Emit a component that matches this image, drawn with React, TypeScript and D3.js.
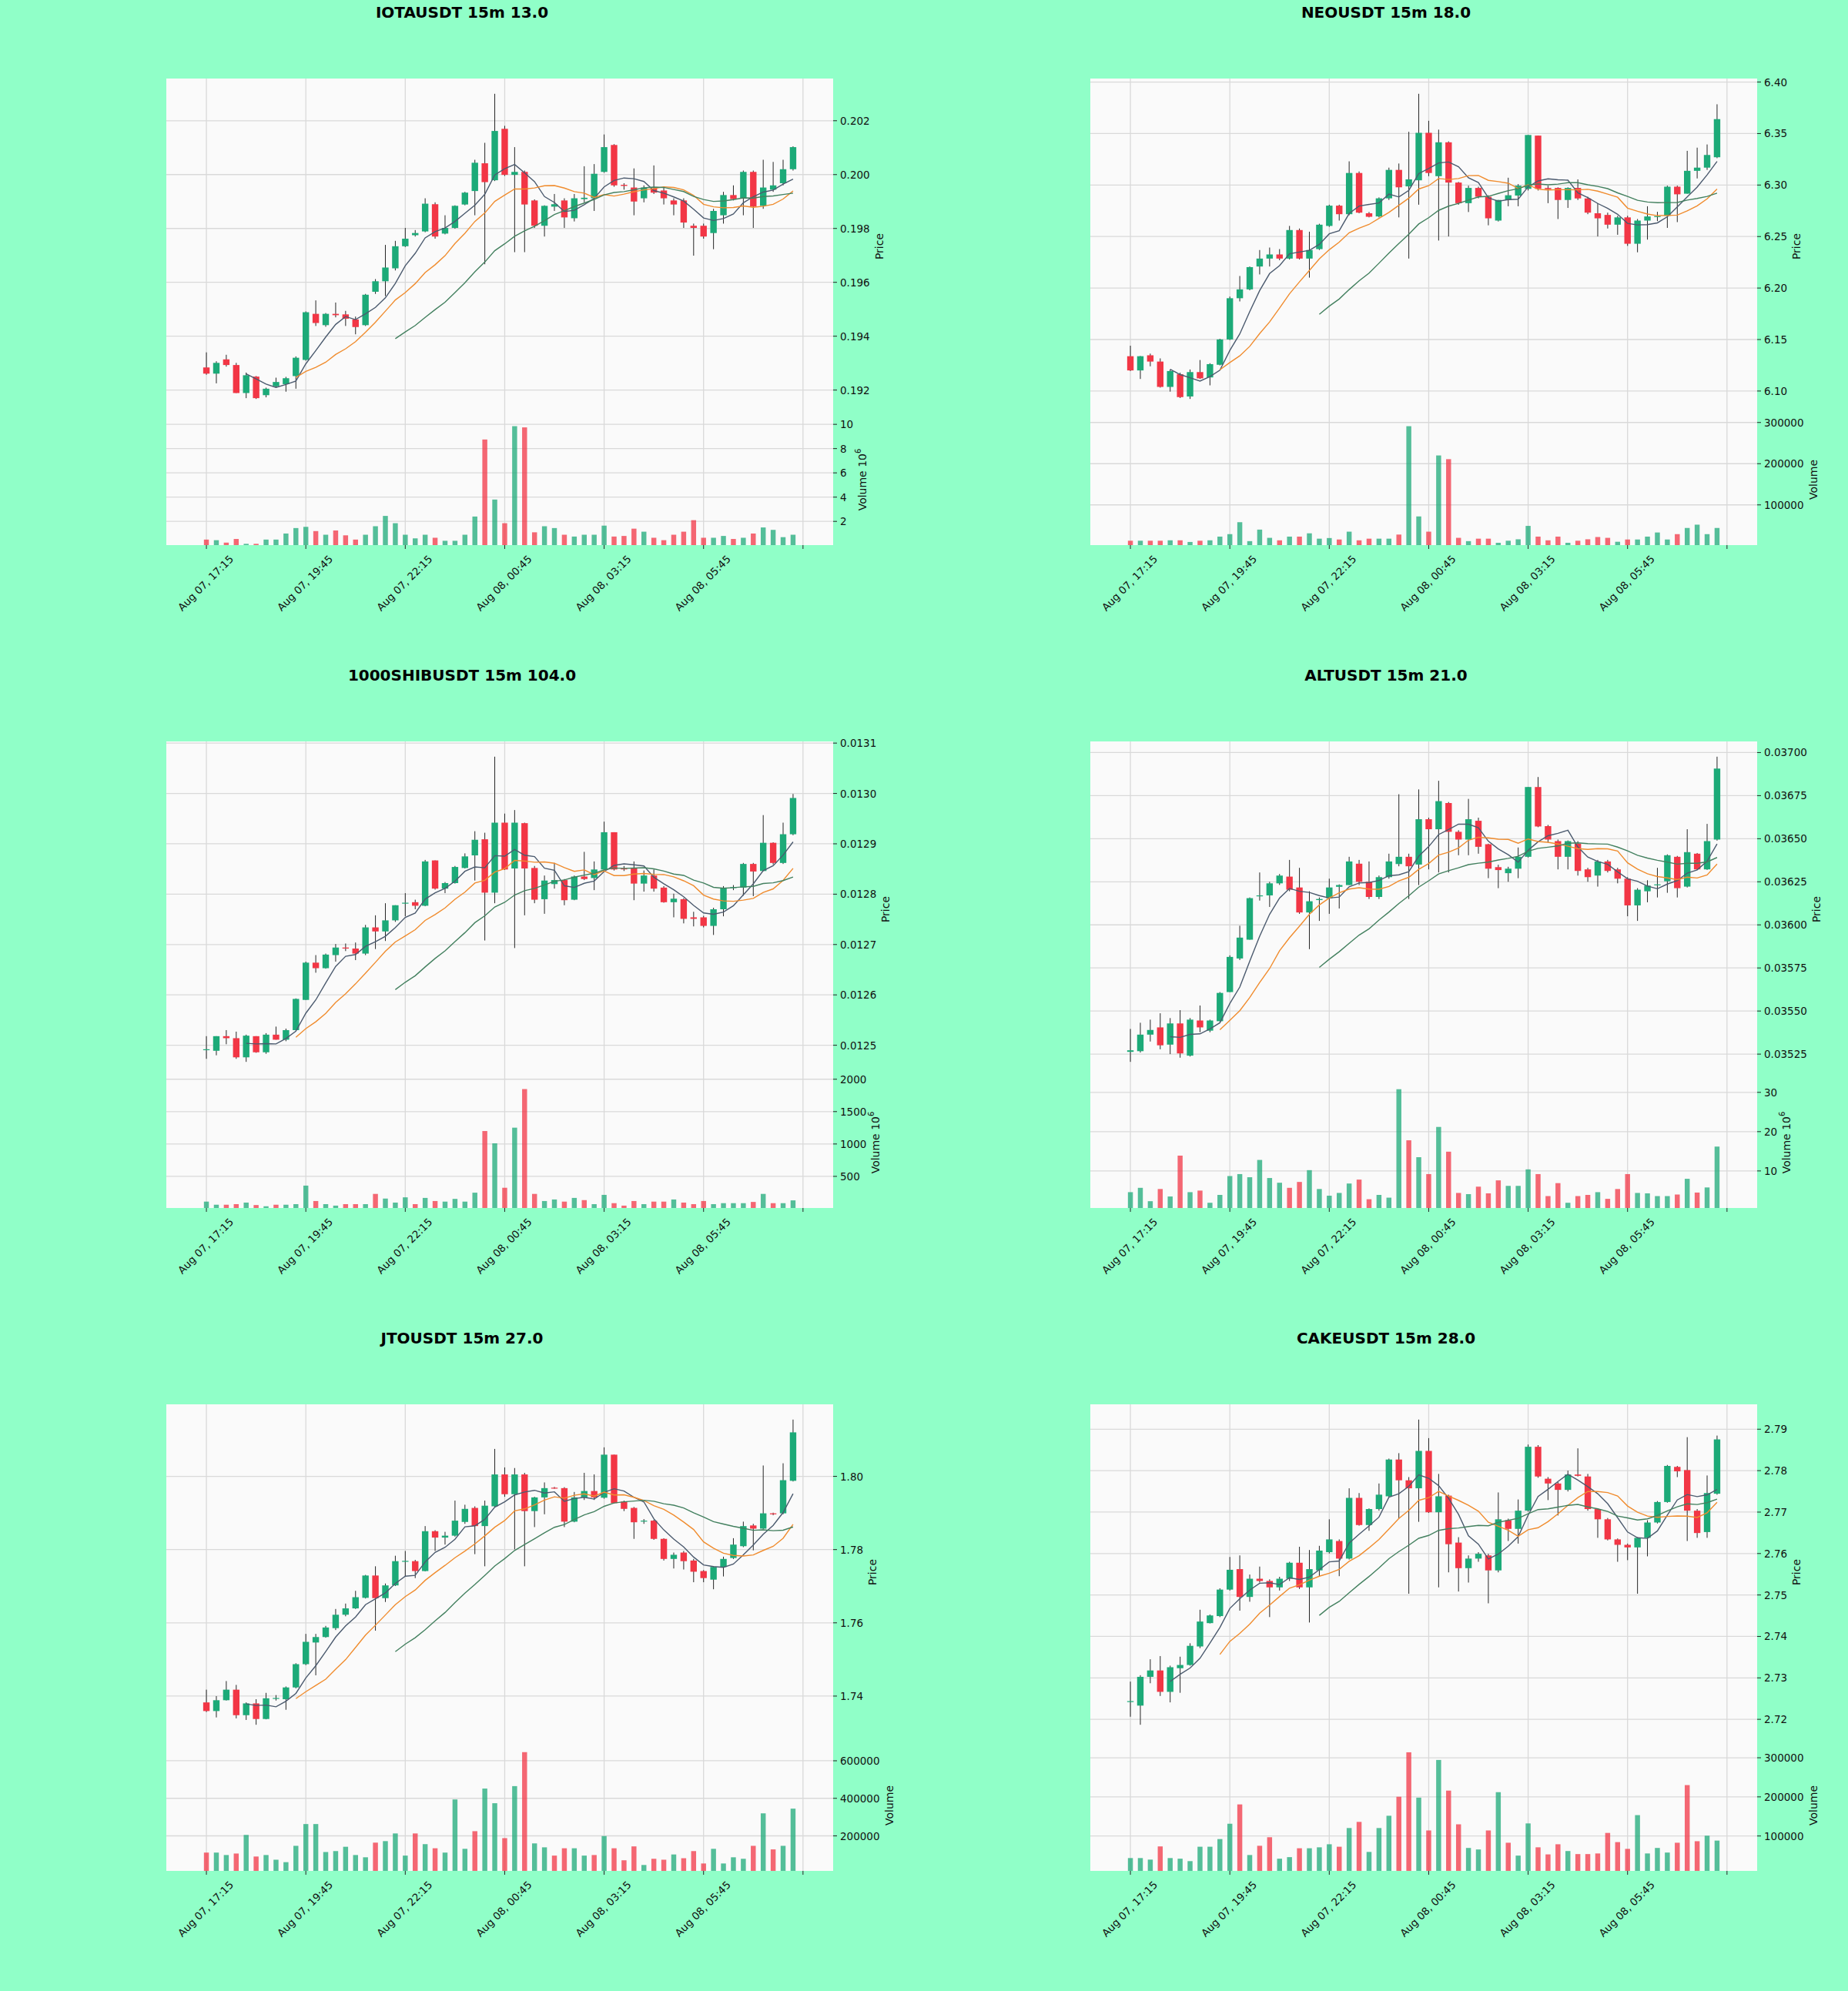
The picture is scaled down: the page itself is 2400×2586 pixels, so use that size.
import React from "react";
import * as d3 from "d3";

// open, high, low, close
type Candle = [number, number, number, number];

const FIG_W = 2400;
const FIG_H = 2586;
const FIG_BG = "#90ffc8";
const AX_BG = "#fafafa";
const GRID = "#d9d9d9";
const UP = "#1caa78";
const DOWN = "#f23645";
const WICK = "#262626";
const FONT = "DejaVu Sans, Verdana, sans-serif";

const MA_WINDOWS = [5, 10, 20];
const MA_COLORS = ["#4b5a6e", "#f08c2e", "#43805f"];

// layout of the 2 x 3 grid (pixels)
const COL_LEFT = [216, 1416];
const PLOT_W = 866;
const ROW_TOP = [102, 963, 1824];
const PRICE_H = 436;
const VOL_H = 170;

const TIME_TICKS = [0, 10, 20, 30, 40, 50, 60];
const TIME_LABELS = [
  "Aug 07, 17:15",
  "Aug 07, 19:45",
  "Aug 07, 22:15",
  "Aug 08, 00:45",
  "Aug 08, 03:15",
  "Aug 08, 05:45",
  "",
];

//___________ IOTAUSDT ____________
const iotaCandles: Candle[] = [
  [0.19284, 0.1934, 0.19257, 0.19261], [0.19261, 0.19307, 0.19225, 0.19301], [0.19314, 0.19331, 0.19287, 0.19293],
  [0.19293, 0.19301, 0.19189, 0.19189], [0.19189, 0.19265, 0.1917, 0.19255], [0.1925, 0.19252, 0.19167, 0.1917],
  [0.19181, 0.19209, 0.19173, 0.19205], [0.19214, 0.19246, 0.19209, 0.1923], [0.19222, 0.19249, 0.19194, 0.19244],
  [0.19252, 0.19325, 0.19205, 0.1932], [0.19312, 0.19492, 0.19309, 0.19489], [0.19483, 0.19533, 0.19438, 0.19449],
  [0.19441, 0.19486, 0.19435, 0.19483], [0.19483, 0.19525, 0.1947, 0.19478], [0.19481, 0.19494, 0.19438, 0.19465],
  [0.19462, 0.19473, 0.19407, 0.19434], [0.19441, 0.19557, 0.19438, 0.19554], [0.19565, 0.19612, 0.19557, 0.19604],
  [0.19604, 0.19739, 0.19549, 0.19655], [0.19652, 0.19754, 0.19644, 0.19734], [0.19734, 0.19802, 0.19731, 0.19762],
  [0.19775, 0.19794, 0.1977, 0.19783], [0.19789, 0.19912, 0.19786, 0.19892], [0.1989, 0.19897, 0.19762, 0.1977],
  [0.19781, 0.19849, 0.19778, 0.19802], [0.19802, 0.19886, 0.19799, 0.19884], [0.19889, 0.19936, 0.19886, 0.19933],
  [0.19939, 0.20055, 0.19849, 0.20044], [0.20042, 0.20118, 0.19667, 0.19972], [0.19979, 0.203, 0.19976, 0.20162],
  [0.2017, 0.20181, 0.19995, 0.19999], [0.19999, 0.20102, 0.19712, 0.2001], [0.2001, 0.20015, 0.19712, 0.19889],
  [0.19904, 0.19908, 0.19802, 0.1981], [0.1981, 0.19886, 0.1977, 0.19884], [0.19881, 0.19928, 0.19865, 0.1989],
  [0.19904, 0.19912, 0.19802, 0.19841], [0.19838, 0.19928, 0.19826, 0.19912], [0.19909, 0.20031, 0.19897, 0.19914],
  [0.19912, 0.20039, 0.19865, 0.20003], [0.2001, 0.20149, 0.20007, 0.20102], [0.2011, 0.20113, 0.19955, 0.1996],
  [0.19962, 0.19968, 0.19944, 0.19958], [0.19952, 0.20023, 0.19849, 0.199], [0.19912, 0.1996, 0.19897, 0.19952],
  [0.19949, 0.20034, 0.19928, 0.19933], [0.19941, 0.19952, 0.19889, 0.19912], [0.19904, 0.19912, 0.19849, 0.19889],
  [0.19904, 0.19912, 0.19802, 0.19822], [0.1981, 0.19818, 0.19699, 0.19802], [0.1981, 0.19818, 0.19762, 0.1977],
  [0.19783, 0.19873, 0.19723, 0.19865], [0.19849, 0.19936, 0.19818, 0.19924], [0.19924, 0.1996, 0.19904, 0.19909],
  [0.19912, 0.20015, 0.19849, 0.2001], [0.2001, 0.20015, 0.19802, 0.19881], [0.19884, 0.20055, 0.19873, 0.19952],
  [0.19944, 0.20047, 0.19936, 0.1996], [0.19968, 0.20055, 0.1996, 0.2002], [0.2002, 0.20105, 0.20015, 0.20102],
];
// in units of 10^6
const iotaVolume = [
  0.5, 0.45, 0.25, 0.55, 0.15, 0.15, 0.5, 0.5, 1.0, 1.45, 1.55, 1.2, 0.9, 1.25, 0.85, 0.5, 0.9, 1.6, 2.45, 1.85,
  0.9, 0.6, 0.9, 0.65, 0.4, 0.4, 0.9, 2.4, 8.75, 3.8, 1.85, 9.85, 9.75, 1.1, 1.6, 1.45, 0.9, 0.75, 0.9, 0.9,
  1.65, 0.75, 0.8, 1.4, 1.15, 0.65, 0.45, 0.9, 1.15, 2.1, 0.65, 0.65, 0.8, 0.55, 0.65, 1.0, 1.5, 1.3, 0.7, 0.9,
];
const iotaPriceTicks = [0.192, 0.194, 0.196, 0.198, 0.2, 0.202];
const iotaVolumeTicks = [2, 4, 6, 8, 10];

//___________ NEOUSDT ____________
const neoCandles: Candle[] = [
  [6.1338, 6.144, 6.1194, 6.12], [6.12, 6.134, 6.1117, 6.1338], [6.1347, 6.1363, 6.124, 6.1286],
  [6.1286, 6.1317, 6.1033, 6.104], [6.104, 6.1209, 6.0994, 6.1194], [6.1163, 6.1178, 6.0932, 6.0941],
  [6.0947, 6.1209, 6.0923, 6.1184], [6.1184, 6.1301, 6.1117, 6.1123], [6.1132, 6.127, 6.1055, 6.1261],
  [6.1255, 6.1507, 6.1249, 6.1501], [6.1501, 6.1917, 6.1495, 6.1901], [6.1901, 6.2117, 6.187, 6.1987],
  [6.1987, 6.2209, 6.1978, 6.2203], [6.2209, 6.2369, 6.2132, 6.2286], [6.2286, 6.2393, 6.2209, 6.2326],
  [6.2326, 6.2378, 6.227, 6.2286], [6.2286, 6.2603, 6.2277, 6.2563], [6.2563, 6.2578, 6.2277, 6.2286],
  [6.2286, 6.2547, 6.2101, 6.2369], [6.2378, 6.2624, 6.2369, 6.2615], [6.2603, 6.2809, 6.2594, 6.28],
  [6.28, 6.2809, 6.2655, 6.2717], [6.2717, 6.323, 6.2707, 6.3117], [6.3117, 6.3132, 6.2726, 6.2732],
  [6.2726, 6.2738, 6.2686, 6.2692], [6.2695, 6.288, 6.2686, 6.2871], [6.2871, 6.3169, 6.2855, 6.3147],
  [6.3147, 6.3209, 6.2686, 6.2978], [6.2987, 6.3517, 6.2286, 6.3055], [6.3046, 6.3886, 6.2809, 6.3507],
  [6.3507, 6.3624, 6.3086, 6.3117], [6.3086, 6.3538, 6.2461, 6.3415], [6.3415, 6.3424, 6.2501, 6.3024],
  [6.3024, 6.303, 6.2809, 6.2824], [6.2824, 6.2994, 6.2738, 6.2972], [6.2972, 6.2984, 6.2871, 6.2886],
  [6.2886, 6.2901, 6.2609, 6.2677], [6.2655, 6.2855, 6.2646, 6.2855], [6.2855, 6.3071, 6.2794, 6.2901],
  [6.2898, 6.3009, 6.2794, 6.2994], [6.2963, 6.3486, 6.2947, 6.3486], [6.348, 6.348, 6.2947, 6.2963],
  [6.2972, 6.2994, 6.2824, 6.296], [6.2972, 6.2978, 6.267, 6.2855], [6.2855, 6.2978, 6.2778, 6.2972],
  [6.2972, 6.3055, 6.2855, 6.287], [6.287, 6.2886, 6.2717, 6.2732], [6.2726, 6.2824, 6.2501, 6.2677],
  [6.271, 6.2732, 6.2578, 6.2615], [6.2615, 6.2701, 6.2517, 6.2686], [6.2686, 6.2701, 6.2409, 6.243],
  [6.243, 6.267, 6.2347, 6.2655], [6.2655, 6.2794, 6.247, 6.2695], [6.2692, 6.274, 6.265, 6.2698],
  [6.2701, 6.2994, 6.2584, 6.2984], [6.2984, 6.2994, 6.264, 6.291], [6.2916, 6.3332, 6.2916, 6.3138],
  [6.3138, 6.3363, 6.3064, 6.3169], [6.3169, 6.3394, 6.3147, 6.3292], [6.327, 6.3784, 6.3261, 6.364],
];
const neoVolume = [
  13000, 13000, 13000, 13000, 14000, 14000, 10000, 13000, 14000, 23000, 29000, 58000, 12000, 40000, 20000,
  14000, 23000, 23000, 31000, 18000, 19500, 16000, 35000, 14000, 18000, 18000, 18000, 28000, 291000, 72000,
  35000, 220000, 211000, 20000, 12000, 18000, 18000, 8000, 13000, 16500, 49000, 23000, 14000, 23000, 8000,
  13000, 16500, 22000, 20000, 10500, 16000, 16000, 23000, 33000, 16000, 29000, 44000, 52000, 29000, 44000,
];
const neoPriceTicks = [6.1, 6.15, 6.2, 6.25, 6.3, 6.35, 6.4];
const neoVolumeTicks = [100000, 200000, 300000];

//___________ 1000SHIBUSDT ____________
const shibCandles: Candle[] = [
  [0.012491, 0.012518, 0.012473, 0.012492], [0.012489, 0.012518, 0.01248, 0.012518], [0.012518, 0.01253, 0.012502, 0.012514],
  [0.012514, 0.012527, 0.012473, 0.012476], [0.012476, 0.012521, 0.012467, 0.012519], [0.012518, 0.012518, 0.012485, 0.012486],
  [0.012486, 0.012524, 0.012483, 0.012521], [0.012521, 0.012537, 0.012511, 0.012511], [0.012511, 0.012533, 0.012508, 0.01253],
  [0.01253, 0.012593, 0.012529, 0.012592], [0.01259, 0.012666, 0.01259, 0.012664], [0.012664, 0.012679, 0.012644, 0.012653],
  [0.012653, 0.012682, 0.012652, 0.01268], [0.012679, 0.012701, 0.012666, 0.012694], [0.012694, 0.012702, 0.012687, 0.012692],
  [0.012692, 0.012704, 0.012669, 0.012682], [0.012682, 0.012739, 0.012679, 0.012734], [0.012734, 0.012758, 0.012691, 0.012726],
  [0.012726, 0.012782, 0.012707, 0.012748], [0.012748, 0.012778, 0.012745, 0.012778], [0.012782, 0.012802, 0.012756, 0.012783],
  [0.012784, 0.012789, 0.01277, 0.012777], [0.012777, 0.012868, 0.012776, 0.012865], [0.012867, 0.012867, 0.012809, 0.012811],
  [0.012811, 0.012824, 0.012802, 0.012822], [0.012822, 0.012856, 0.012821, 0.012854], [0.012852, 0.012881, 0.012851, 0.012875],
  [0.012877, 0.012925, 0.012827, 0.012908], [0.012909, 0.012922, 0.012708, 0.012803], [0.012803, 0.013073, 0.012782, 0.012942],
  [0.012942, 0.01296, 0.012848, 0.012849], [0.012851, 0.012967, 0.012693, 0.012942], [0.012941, 0.012942, 0.012758, 0.012851],
  [0.012852, 0.012856, 0.012782, 0.012789], [0.01279, 0.012837, 0.012761, 0.012827], [0.01282, 0.012862, 0.012811, 0.012828],
  [0.012828, 0.01283, 0.012778, 0.012788], [0.012789, 0.012837, 0.012788, 0.012835], [0.012835, 0.012884, 0.012828, 0.01283],
  [0.012832, 0.012865, 0.012808, 0.012849], [0.012849, 0.012944, 0.012846, 0.012923], [0.012923, 0.012923, 0.012847, 0.012849],
  [0.012851, 0.012856, 0.012846, 0.01285], [0.012851, 0.012865, 0.012788, 0.012821], [0.012821, 0.012847, 0.012805, 0.012837],
  [0.012837, 0.012849, 0.012805, 0.012811], [0.012813, 0.012816, 0.012783, 0.012784], [0.012784, 0.012801, 0.012754, 0.012791],
  [0.01279, 0.012792, 0.012742, 0.012751], [0.012754, 0.012765, 0.012736, 0.012751], [0.012754, 0.012757, 0.012734, 0.012737],
  [0.012737, 0.012773, 0.012719, 0.01277], [0.01277, 0.012816, 0.012756, 0.012813], [0.012813, 0.012818, 0.012808, 0.012814],
  [0.012813, 0.012862, 0.012797, 0.01286], [0.01286, 0.012862, 0.012796, 0.012845], [0.012846, 0.012957, 0.012846, 0.012902],
  [0.012902, 0.012903, 0.012859, 0.012862], [0.012862, 0.012942, 0.01286, 0.012919], [0.012919, 0.012999, 0.012917, 0.012991],
];
// in units of 10^6
const shibVolume = [
  110, 62, 62, 71, 95, 57, 38, 62, 62, 71, 357, 119, 71, 48, 71, 71, 71, 229, 157, 95, 176, 71, 167, 119, 110,
  152, 110, 248, 1200, 1010, 324, 1252, 1848, 229, 119, 143, 110, 167, 133, 71, 214, 86, 48, 119, 71, 110, 110,
  143, 95, 71, 119, 71, 86, 86, 86, 105, 229, 86, 86, 129,
];
const shibPriceTicks = [0.0125, 0.0126, 0.0127, 0.0128, 0.0129, 0.013, 0.0131];
const shibVolumeTicks = [500, 1000, 1500, 2000];

//___________ ALTUSDT ____________
const altCandles: Candle[] = [
  [0.035263, 0.035396, 0.035205, 0.035272], [0.035267, 0.035432, 0.035259, 0.035363], [0.035363, 0.03545, 0.035323, 0.03539],
  [0.035405, 0.035487, 0.035278, 0.035301], [0.035305, 0.035459, 0.03525, 0.035428], [0.035428, 0.035505, 0.035229, 0.035254],
  [0.035241, 0.035459, 0.035236, 0.03545], [0.035445, 0.035532, 0.035377, 0.035405], [0.035386, 0.03545, 0.035377, 0.035445],
  [0.035441, 0.03561, 0.035437, 0.035605], [0.03561, 0.035823, 0.03561, 0.035814], [0.035805, 0.035995, 0.035796, 0.035926],
  [0.035914, 0.036159, 0.035914, 0.036155], [0.036168, 0.036304, 0.036141, 0.036171], [0.036171, 0.03625, 0.036104, 0.036241],
  [0.036241, 0.036295, 0.036232, 0.036286], [0.03628, 0.036377, 0.036195, 0.036204], [0.036217, 0.036331, 0.036064, 0.036072],
  [0.036072, 0.036195, 0.035859, 0.036137], [0.036144, 0.036159, 0.036023, 0.03615], [0.036155, 0.036268, 0.036064, 0.036217],
  [0.036221, 0.036235, 0.036095, 0.036231], [0.036231, 0.036395, 0.036231, 0.036368], [0.036355, 0.036377, 0.036231, 0.03625],
  [0.03625, 0.036368, 0.03615, 0.036162], [0.036162, 0.036286, 0.03615, 0.036277], [0.036277, 0.036413, 0.036268, 0.036368],
  [0.036353, 0.036758, 0.03634, 0.036395], [0.036395, 0.036413, 0.03615, 0.03634], [0.03635, 0.036786, 0.036231, 0.036613],
  [0.036613, 0.036622, 0.036322, 0.036555], [0.036555, 0.036836, 0.036304, 0.036718], [0.036707, 0.036713, 0.036304, 0.03654],
  [0.03654, 0.036549, 0.036404, 0.036495], [0.036495, 0.036731, 0.036404, 0.036613], [0.036604, 0.036622, 0.036413, 0.036453],
  [0.036468, 0.036471, 0.036271, 0.036326], [0.036335, 0.036349, 0.036213, 0.036318], [0.0363, 0.036337, 0.03625, 0.036326],
  [0.036326, 0.036449, 0.036271, 0.036395], [0.036395, 0.0368, 0.036391, 0.0368], [0.0368, 0.036858, 0.036567, 0.036571],
  [0.036573, 0.03658, 0.036477, 0.036495], [0.036486, 0.036495, 0.036322, 0.036395], [0.036395, 0.03649, 0.036322, 0.036486],
  [0.036471, 0.036486, 0.036286, 0.036313], [0.036322, 0.036331, 0.03625, 0.036277], [0.036286, 0.036377, 0.036222, 0.036368],
  [0.036368, 0.036377, 0.036304, 0.036313], [0.036322, 0.036331, 0.036241, 0.036268], [0.036268, 0.036277, 0.03605, 0.036113],
  [0.036113, 0.036213, 0.036023, 0.036204], [0.036195, 0.036259, 0.036131, 0.036228], [0.036233, 0.036331, 0.036159, 0.036235],
  [0.036253, 0.036409, 0.036186, 0.036404], [0.036395, 0.0364, 0.036159, 0.036213], [0.036222, 0.036555, 0.036217, 0.036422],
  [0.036413, 0.036417, 0.036319, 0.036322], [0.036322, 0.036586, 0.036319, 0.036486], [0.036495, 0.036976, 0.036489, 0.036907],
];
// in units of 10^6
const altVolume = [
  4.6, 5.7, 2.3, 5.4, 3.5, 13.9, 4.6, 5.0, 1.9, 3.9, 8.7, 9.2, 8.4, 12.8, 8.2, 7.0, 5.7, 7.2, 10.2, 5.4, 3.7,
  4.4, 6.8, 7.8, 2.8, 3.9, 3.2, 30.8, 17.8, 13.5, 9.2, 21.2, 14.9, 4.4, 4.1, 6.0, 4.3, 7.6, 6.2, 6.2, 10.4,
  9.2, 3.6, 6.9, 1.9, 3.6, 3.9, 4.6, 2.9, 5.4, 9.2, 4.4, 4.3, 3.6, 3.6, 4.0, 8.0, 4.5, 5.8, 16.2,
];
const altPriceTicks = [0.03525, 0.0355, 0.03575, 0.036, 0.03625, 0.0365, 0.03675, 0.037];
const altVolumeTicks = [10, 20, 30];

//___________ JTOUSDT ____________
const jtoCandles: Candle[] = [
  [1.73827, 1.74175, 1.73565, 1.73591], [1.73591, 1.73999, 1.73417, 1.73887], [1.73887, 1.7441, 1.73878, 1.74175],
  [1.74175, 1.74305, 1.73391, 1.73478], [1.73478, 1.73827, 1.73348, 1.738], [1.738, 1.73914, 1.73217, 1.73374],
  [1.73374, 1.74088, 1.73365, 1.7394], [1.7394, 1.74027, 1.73878, 1.73948], [1.73914, 1.74262, 1.73626, 1.74236],
  [1.74236, 1.74897, 1.7421, 1.74871], [1.74871, 1.75698, 1.74845, 1.75481], [1.75463, 1.75698, 1.74567, 1.75612],
  [1.75612, 1.75916, 1.75594, 1.75873], [1.75855, 1.76378, 1.75803, 1.76221], [1.76221, 1.76526, 1.76178, 1.76395],
  [1.76395, 1.76874, 1.76378, 1.767], [1.76683, 1.77309, 1.76665, 1.77292], [1.77292, 1.77544, 1.75786, 1.76674],
  [1.76674, 1.77074, 1.76569, 1.77022], [1.77022, 1.77832, 1.77005, 1.77684], [1.77684, 1.77962, 1.77266, 1.77692],
  [1.77684, 1.77719, 1.77222, 1.77414], [1.77414, 1.78642, 1.77405, 1.78502], [1.78502, 1.78528, 1.77962, 1.78328],
  [1.78328, 1.78485, 1.78136, 1.7838], [1.7838, 1.79338, 1.78354, 1.7879], [1.78755, 1.79225, 1.78703, 1.79112],
  [1.79138, 1.79181, 1.77875, 1.78642], [1.78642, 1.79338, 1.77544, 1.79199], [1.79181, 1.80749, 1.79164, 1.80052],
  [1.80052, 1.80244, 1.79442, 1.79512], [1.79512, 1.80227, 1.78006, 1.80052], [1.80052, 1.80096, 1.77544, 1.79051],
  [1.79051, 1.79442, 1.78615, 1.79425], [1.79425, 1.79834, 1.78964, 1.79678], [1.7969, 1.79712, 1.7966, 1.79678],
  [1.79678, 1.79704, 1.78615, 1.78763], [1.78763, 1.79573, 1.78746, 1.79425], [1.79425, 1.80096, 1.79355, 1.79599],
  [1.79599, 1.80053, 1.79355, 1.79425], [1.79416, 1.80792, 1.7939, 1.80592], [1.80592, 1.80592, 1.7926, 1.79268],
  [1.79312, 1.79338, 1.79051, 1.79112], [1.79138, 1.79164, 1.78293, 1.78746], [1.78765, 1.78833, 1.78703, 1.7879],
  [1.7879, 1.78816, 1.78267, 1.78293], [1.78293, 1.7831, 1.77701, 1.77745], [1.77745, 1.77919, 1.77484, 1.77858],
  [1.77919, 1.77962, 1.77457, 1.77684], [1.77701, 1.77745, 1.77109, 1.77396], [1.77414, 1.7744, 1.77109, 1.77222],
  [1.77179, 1.77544, 1.76917, 1.77527], [1.77527, 1.77806, 1.77266, 1.77745], [1.77771, 1.78311, 1.77745, 1.78136],
  [1.78093, 1.78763, 1.78067, 1.78641], [1.78659, 1.78703, 1.7798, 1.78572], [1.78572, 1.80296, 1.78555, 1.7899],
  [1.7899, 1.79007, 1.78938, 1.78964], [1.7899, 1.80357, 1.78964, 1.79895], [1.79878, 1.8155, 1.7986, 1.81201],
];
const jtoVolume = [
  111000, 111000, 98000, 106000, 205000, 90000, 98000, 73000, 60000, 147000, 263000, 263000, 114000, 119000,
  142000, 98000, 86000, 164000, 172000, 213000, 95000, 213000, 156000, 134000, 111000, 394000, 131000, 225000,
  452000, 374000, 188000, 465000, 646000, 160000, 139000, 95000, 134000, 134000, 95000, 98000, 199000, 134000,
  70000, 144000, 45000, 78000, 73000, 101000, 81000, 119000, 53000, 131000, 53000, 86000, 78000, 147000, 320000,
  128000, 147000, 345000,
];
const jtoPriceTicks = [1.74, 1.76, 1.78, 1.8];
const jtoVolumeTicks = [200000, 400000, 600000];

//___________ CAKEUSDT ____________
const cakeCandles: Candle[] = [
  [2.72424, 2.7291, 2.72062, 2.72439], [2.72331, 2.73064, 2.71869, 2.73025], [2.73025, 2.73449, 2.72871, 2.73179],
  [2.73179, 2.73526, 2.72563, 2.72663], [2.72663, 2.73295, 2.72409, 2.73257], [2.73233, 2.73511, 2.7264, 2.73311],
  [2.73311, 2.73835, 2.73295, 2.73773], [2.73758, 2.74644, 2.73719, 2.74359], [2.74321, 2.74528, 2.74313, 2.74506],
  [2.74491, 2.75161, 2.74467, 2.7513], [2.7513, 2.75917, 2.75107, 2.75608], [2.75624, 2.75955, 2.74621, 2.74953],
  [2.74953, 2.75493, 2.74837, 2.75392], [2.75392, 2.75685, 2.753, 2.75338], [2.75338, 2.75377, 2.74467, 2.75184],
  [2.75184, 2.75439, 2.75107, 2.75392], [2.75392, 2.75801, 2.75338, 2.75778], [2.75778, 2.76163, 2.75145, 2.75184],
  [2.75184, 2.76086, 2.74336, 2.75624], [2.75594, 2.76186, 2.75439, 2.76071], [2.76033, 2.76826, 2.76002, 2.76341],
  [2.76302, 2.76341, 2.75454, 2.75878], [2.75878, 2.77574, 2.75855, 2.77343], [2.77343, 2.77459, 2.76672, 2.76688],
  [2.76688, 2.77089, 2.76549, 2.77073], [2.77073, 2.7769, 2.77034, 2.7742], [2.77381, 2.78291, 2.77366, 2.78268],
  [2.78268, 2.78422, 2.76842, 2.77767], [2.77767, 2.77844, 2.7503, 2.77574], [2.77574, 2.79232, 2.76765, 2.78476],
  [2.78476, 2.78785, 2.7698, 2.76996], [2.76996, 2.77921, 2.75184, 2.77381], [2.77397, 2.7742, 2.75546, 2.76225],
  [2.76264, 2.76394, 2.75084, 2.75647], [2.75647, 2.75955, 2.753, 2.75878], [2.75878, 2.76033, 2.75801, 2.75994],
  [2.75955, 2.75994, 2.74799, 2.75593], [2.75593, 2.77474, 2.75546, 2.76826], [2.76804, 2.76842, 2.76302, 2.76595],
  [2.76595, 2.77304, 2.7624, 2.77034], [2.77034, 2.7863, 2.77011, 2.78576], [2.78576, 2.78615, 2.77829, 2.77859],
  [2.77805, 2.77844, 2.77289, 2.7769], [2.7769, 2.77728, 2.76919, 2.77536], [2.77536, 2.78001, 2.77497, 2.77906],
  [2.77906, 2.78538, 2.77859, 2.77875], [2.77859, 2.77921, 2.77034, 2.77073], [2.77073, 2.77089, 2.76379, 2.76826],
  [2.76826, 2.76857, 2.76317, 2.76341], [2.76341, 2.76364, 2.75801, 2.7621], [2.7621, 2.7624, 2.7584, 2.76148],
  [2.76148, 2.76394, 2.7503, 2.76379], [2.76379, 2.76803, 2.75932, 2.76749], [2.76749, 2.77266, 2.76726, 2.77243],
  [2.77243, 2.78137, 2.77226, 2.78114], [2.78091, 2.78114, 2.77844, 2.77983], [2.78014, 2.78808, 2.76302, 2.77034],
  [2.77034, 2.77073, 2.76379, 2.76495], [2.76518, 2.77883, 2.76379, 2.77459], [2.77443, 2.78846, 2.7742, 2.78754],
];
const cakeVolume = [
  43500, 43500, 39600, 73300, 43500, 41900, 35700, 72500, 72500, 92100, 131300, 180700, 51300, 74900, 96800,
  41900, 45900, 68600, 68600, 71000, 78800, 72500, 120300, 136000, 59200, 120300, 151700, 200300, 314000, 198000,
  114100, 294400, 216000, 129800, 69400, 65500, 114100, 212000, 82700, 49800, 132100, 71000, 52900, 78800, 61500,
  53700, 53700, 55300, 107800, 84300, 67000, 153300, 55300, 69400, 57600, 82700, 230100, 86600, 100700, 88200,
];
const cakePriceTicks = [2.72, 2.73, 2.74, 2.75, 2.76, 2.77, 2.78, 2.79];
const cakeVolumeTicks = [100000, 200000, 300000];

const TITLES = [
  "IOTAUSDT 15m 13.0",
  "NEOUSDT 15m 18.0",
  "1000SHIBUSDT 15m 104.0",
  "ALTUSDT 15m 21.0",
  "JTOUSDT 15m 27.0",
  "CAKEUSDT 15m 28.0",
];

type PanelConfig = {
  title: string;
  candles: Candle[];
  volume: number[];
  priceTicks: number[];
  priceDigits: number;
  volumeTicks: number[];
  volumeExp: number;
};

const PANELS: PanelConfig[] = [
  { title: TITLES[0], candles: iotaCandles, volume: iotaVolume, priceTicks: iotaPriceTicks, priceDigits: 3, volumeTicks: iotaVolumeTicks, volumeExp: 6 },
  { title: TITLES[1], candles: neoCandles, volume: neoVolume, priceTicks: neoPriceTicks, priceDigits: 2, volumeTicks: neoVolumeTicks, volumeExp: 0 },
  { title: TITLES[2], candles: shibCandles, volume: shibVolume, priceTicks: shibPriceTicks, priceDigits: 4, volumeTicks: shibVolumeTicks, volumeExp: 6 },
  { title: TITLES[3], candles: altCandles, volume: altVolume, priceTicks: altPriceTicks, priceDigits: 5, volumeTicks: altVolumeTicks, volumeExp: 6 },
  { title: TITLES[4], candles: jtoCandles, volume: jtoVolume, priceTicks: jtoPriceTicks, priceDigits: 2, volumeTicks: jtoVolumeTicks, volumeExp: 0 },
  { title: TITLES[5], candles: cakeCandles, volume: cakeVolume, priceTicks: cakePriceTicks, priceDigits: 2, volumeTicks: cakeVolumeTicks, volumeExp: 0 },
];

const TICK_FONT = 13.5;
// rough width of a tick label in DejaVu Sans
const labelWidth = (s: string) =>
  s.split("").reduce((w, ch) => w + (ch === "." ? 0.318 : 0.636) * TICK_FONT, 0);

const Panel = ({ cfg, row, col }: { cfg: PanelConfig; row: number; col: number }) => {
  const left = COL_LEFT[col];
  const right = left + PLOT_W;
  const top = ROW_TOP[row];
  const mid = top + PRICE_H;
  const bottom = mid + VOL_H;
  const n = cfg.candles.length;

  // x limits the way mplfinance does them: one average step on each side, then 5% margin
  const step = (n - 1) / n;
  const xa = -step;
  const xb = n - 1 + step;
  const xm = 0.05 * (xb - xa);
  const xScale = d3.scaleLinear().domain([xa - xm, xb + xm]).range([left, right]);

  const lo = d3.min(cfg.candles, (d) => d[2]) as number;
  const hi = d3.max(cfg.candles, (d) => d[1]) as number;
  const ym = 0.05 * (hi - lo);
  const yScale = d3.scaleLinear().domain([lo - ym, hi + ym]).range([mid, top]);

  const vScale = d3
    .scaleLinear()
    .domain([0.3 * (d3.min(cfg.volume) as number), 1.1 * (d3.max(cfg.volume) as number)])
    .range([bottom, mid]);

  const unit = xScale(1) - xScale(0);
  const bodyW = unit * 0.65;
  const volW = unit * 0.5;

  const closes = cfg.candles.map((d) => d[3]);
  const maLines = MA_WINDOWS.map((w) => {
    const pts: [number, number][] = [];
    for (let i = w - 1; i < n; i++) {
      pts.push([i, d3.mean(closes.slice(i - w + 1, i + 1)) as number]);
    }
    return d3
      .line<[number, number]>()
      .x((p) => xScale(p[0]))
      .y((p) => yScale(p[1]))(pts);
  });

  const priceTicks = cfg.priceTicks.filter((t) => yScale(t) >= top - 0.5 && yScale(t) <= mid + 0.5);
  const volTicks = cfg.volumeTicks.filter((t) => vScale(t) >= mid - 0.5 && vScale(t) <= bottom);
  const priceLabels = priceTicks.map((t) => t.toFixed(cfg.priceDigits));
  const volLabels = volTicks.map((t) => String(t));
  const priceLabelX = right + 9 + (d3.max(priceLabels, labelWidth) as number) + 12;
  const volLabelX = right + 9 + (d3.max(volLabels, labelWidth) as number) + 12;

  return (
    <g fontFamily={FONT}>
      <text x={600 + 1200 * col} y={top - 79} textAnchor="middle" fontSize={20} fontWeight="bold" fill="#000">
        {cfg.title}
      </text>
      <rect x={left} y={top} width={PLOT_W} height={PRICE_H + VOL_H} fill={AX_BG} />

      {/* grid */}
      {TIME_TICKS.map((t) => (
        <line key={"gx" + t} x1={xScale(t)} x2={xScale(t)} y1={top} y2={bottom} stroke={GRID} strokeWidth={1.3} />
      ))}
      {priceTicks.map((t) => (
        <line key={"gp" + t} x1={left} x2={right} y1={yScale(t)} y2={yScale(t)} stroke={GRID} strokeWidth={1.3} />
      ))}
      {volTicks.map((t) => (
        <line key={"gv" + t} x1={left} x2={right} y1={vScale(t)} y2={vScale(t)} stroke={GRID} strokeWidth={1.3} />
      ))}

      {/* volume */}
      {cfg.volume.map((v, i) => {
        const up = cfg.candles[i][3] >= cfg.candles[i][0];
        return (
          <rect
            key={"v" + i}
            x={xScale(i) - volW / 2}
            y={vScale(v)}
            width={volW}
            height={Math.max(0, bottom - vScale(v))}
            fill={up ? UP : DOWN}
            fillOpacity={0.75}
          />
        );
      })}

      {/* candles */}
      {cfg.candles.map(([o, h, l, c], i) => {
        const up = c >= o;
        const yTop = yScale(Math.max(o, c));
        const yBot = yScale(Math.min(o, c));
        return (
          <g key={"c" + i}>
            <line x1={xScale(i)} x2={xScale(i)} y1={yScale(h)} y2={yScale(l)} stroke={WICK} strokeWidth={1} />
            <rect
              x={xScale(i) - bodyW / 2}
              y={yTop}
              width={bodyW}
              height={Math.max(1.2, yBot - yTop)}
              fill={up ? UP : DOWN}
            />
          </g>
        );
      })}

      {/* moving averages */}
      {maLines.map((dPath, k) => (
        <path key={"ma" + k} d={dPath ?? ""} fill="none" stroke={MA_COLORS[k]} strokeWidth={1.4} />
      ))}

      {/* right axis */}
      {priceTicks.map((t, k) => (
        <g key={"pt" + t}>
          <line x1={right} x2={right + 5} y1={yScale(t)} y2={yScale(t)} stroke="#222" />
          <text x={right + 9} y={yScale(t)} dominantBaseline="central" fontSize={TICK_FONT} fill="#111">
            {priceLabels[k]}
          </text>
        </g>
      ))}
      {volTicks.map((t, k) => (
        <g key={"vt" + t}>
          <line x1={right} x2={right + 5} y1={vScale(t)} y2={vScale(t)} stroke="#222" />
          <text x={right + 9} y={vScale(t)} dominantBaseline="central" fontSize={TICK_FONT} fill="#111">
            {volLabels[k]}
          </text>
        </g>
      ))}
      <text
        transform={`translate(${priceLabelX},${(top + mid) / 2}) rotate(-90)`}
        textAnchor="middle"
        dominantBaseline="central"
        fontSize={14}
        fill="#111"
      >
        Price
      </text>
      <text
        transform={`translate(${volLabelX},${(mid + bottom) / 2}) rotate(-90)`}
        textAnchor="middle"
        dominantBaseline="central"
        fontSize={14}
        fill="#111"
      >
        {cfg.volumeExp ? (
          <>
            <tspan>{"Volume  10"}</tspan>
            <tspan dy={-6} fontSize={10}>
              {cfg.volumeExp}
            </tspan>
          </>
        ) : (
          "Volume"
        )}
      </text>

      {/* bottom axis */}
      {TIME_TICKS.map((t, k) => (
        <g key={"xt" + t}>
          <line x1={xScale(t)} x2={xScale(t)} y1={bottom} y2={bottom + 5} stroke="#222" />
          {TIME_LABELS[k] && (
            <text
              transform={`translate(${xScale(t) + 36},${bottom + 19}) rotate(-45)`}
              textAnchor="end"
              fontSize={TICK_FONT}
              fill="#111"
            >
              {TIME_LABELS[k]}
            </text>
          )}
        </g>
      ))}
    </g>
  );
};

export default function App() {
  return (
    <svg
      width={FIG_W}
      height={FIG_H}
      style={{ position: "absolute", left: 0, top: 0, display: "block" }}
    >
      <rect width={FIG_W} height={FIG_H} fill={FIG_BG} />
      {PANELS.map((cfg, i) => (
        <Panel key={cfg.title} cfg={cfg} row={Math.floor(i / 2)} col={i % 2} />
      ))}
    </svg>
  );
}
